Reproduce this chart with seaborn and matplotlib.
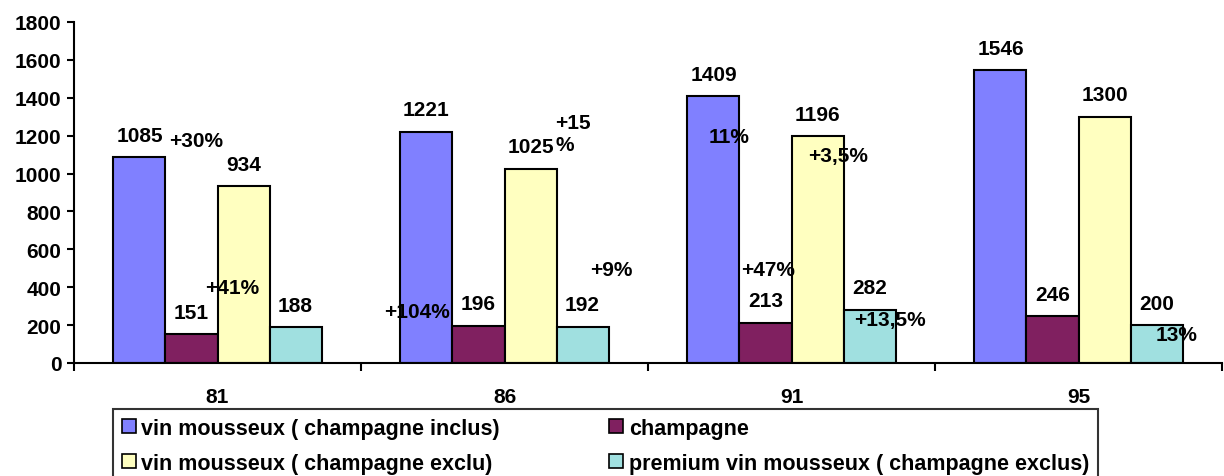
import pandas as pd
import numpy as np
import matplotlib
matplotlib.use('Agg')
import matplotlib.pyplot as plt
import seaborn as sns

sns.set_style('white')
plt.rcParams['font.family'] = ['Liberation Sans', 'DejaVu Sans']
plt.rcParams['font.weight'] = 'bold'
plt.rcParams['text.color'] = 'black'
plt.rcParams['xtick.color'] = 'black'
plt.rcParams['ytick.color'] = 'black'

# data
annees = ['81', '86', '91', '95']
series = ['vin mousseux ( champagne inclus)', 'champagne',
          'vin mousseux ( champagne exclu)', 'premium vin mousseux ( champagne exclus)']
vin_inclus = [1085, 1221, 1409, 1546]
champagne = [151, 196, 213, 246]
vin_exclu = [934, 1025, 1196, 1300]
premium = [188, 192, 282, 200]

# growth labels floating in the chart (as typed in the original)
pct_labels = ['+30%', '+41%', '+104%', '+15\n%', '+9%', '11%', '+3,5%', '+47%', '+13,5%', '13%']
pct_pos = [(-0.075, 1172, 'center'), (0.05, 396, 'center'), (0.695, 274, 'center'),
           (1.176, 1209, 'left'), (1.371, 496, 'center'), (1.782, 1193, 'center'),
           (2.162, 1093, 'center'), (1.918, 496, 'center'), (2.343, 232, 'center'),
           (3.340, 148, 'center')]

couleurs = ['#8080FF', '#802060', '#FFFFC0', '#A0E0E0']

df = pd.DataFrame({
    'annee': annees * 4,
    'serie': np.repeat(series, 4),
    'valeur': vin_inclus + champagne + vin_exclu + premium,
})

fig = plt.figure(figsize=(12.24, 4.77), dpi=100)
ax = fig.add_axes([74/1224, (477-364)/477, (1222-74)/1224, (364-23)/477])

sns.barplot(data=df, x='annee', y='valeur', hue='serie', hue_order=series,
            palette=couleurs, width=0.725, edgecolor='black', linewidth=1.5,
            saturation=1, ax=ax)

fs = 15
for c in ax.containers:
    ax.bar_label(c, padding=9, fontsize=fs, fontweight='bold', color='black')

for lab, (x, y, ha) in zip(pct_labels, pct_pos):
    ax.text(x, y, lab, ha=ha, va='center', fontsize=fs, fontweight='bold', color='black')

ax.set_xlim(-0.5, 3.5)
ax.set_ylim(0, 1800)
ax.set_yticks(range(0, 1801, 200))
ax.set_xticks([-0.5, 0.5, 1.5, 2.5, 3.5], minor=True)
ax.tick_params(axis='x', which='major', length=0, pad=17, labelsize=fs)
ax.tick_params(axis='x', which='minor', length=6, width=1.5, direction='out', color='black')
ax.tick_params(axis='y', length=5, width=1.5, direction='out', color='black', labelsize=fs, pad=4)
ax.xaxis.set_ticks_position('bottom')
ax.yaxis.set_ticks_position('left')
for lbl in ax.get_xticklabels() + ax.get_yticklabels():
    lbl.set_fontweight('bold')
ax.set_xlabel('')
ax.set_ylabel('')
for s in ['top', 'right']:
    ax.spines[s].set_visible(False)
for s in ['left', 'bottom']:
    ax.spines[s].set_color('black')
    ax.spines[s].set_linewidth(1.5)

ax.get_legend().remove()
# legend filled column by column: reorder so rows read inclus/champagne, exclu/premium
ordre = [0, 2, 1, 3]
handles = [plt.Rectangle((0, 0), 1, 1, facecolor=couleurs[i], edgecolor='black', linewidth=1.2) for i in ordre]
labels = [series[i] for i in ordre]
leg = fig.legend(handles, labels, loc='upper left', bbox_to_anchor=(113/1224, (477-410)/477),
                 ncol=2, frameon=True, fancybox=False, edgecolor='black',
                 fontsize=15.5, handlelength=0.65, handleheight=0.65, handletextpad=0.25,
                 columnspacing=5.1, borderpad=0.4, labelspacing=0.65, borderaxespad=0)
leg.get_frame().set_linewidth(1.5)
for t in leg.get_texts():
    t.set_fontweight('bold')
    t.set_color('black')

fig.savefig('out.png', dpi=100)
